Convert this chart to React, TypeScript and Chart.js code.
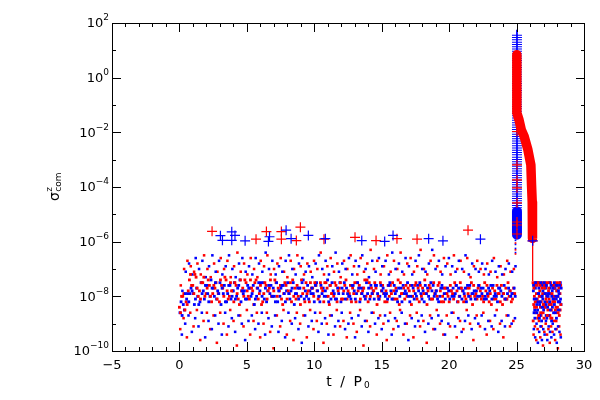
import React, { useEffect, useRef } from "react";
import { Chart, registerables } from "chart.js";

Chart.register(...registerables);

// ---------- axes ----------
const X_MIN = -5;
const X_MAX = 30;
const Y_MIN = 1e-10;
const Y_MAX = 1e2;
const xMajorTicks = [-5, 0, 5, 10, 15, 20, 25, 30];
const yMajorExps = [2, 0, -2, -4, -6, -8, -10];
const yMinorExps = [1, -1, -3, -5, -7, -9];

const RED = "rgb(255,0,0)";
const BLUE = "rgb(0,0,255)";

// ---------- dense cloud, t = 0 .. ~25 (log10 of sigma) ----------
const cloudStep = 0.247;
const redCoreA = [
  -8.4, -8.0, -8.2, -7.4, -7.6, -7.3, -7.8, -7.5, -7.9, -7.6,
  -7.9, -7.5, -8.2, -7.7, -7.4, -8.0, -7.8, -7.6, -8.3, -7.7,
  -7.5, -8.1, -7.8, -7.4, -7.9, -8.2, -7.6, -7.7, -8.0, -7.5,
  -7.8, -8.3, -7.6, -7.9, -7.4, -8.1, -7.7, -7.9, -7.5, -8.2,
  -7.7, -7.6, -8.0, -7.8, -7.5, -8.3, -7.9, -7.6, -7.7, -8.1,
  -7.4, -7.9, -7.7, -8.2, -7.6, -7.8, -8.0, -7.5, -7.9, -7.7,
  -8.1, -7.6, -7.8, -8.0, -7.5, -7.7, -8.3, -7.9, -7.6, -7.8,
  -8.0, -7.5, -8.2, -7.7, -7.9, -7.6, -8.1, -7.8, -7.5, -8.0,
  -7.7, -8.2, -7.9, -7.6, -8.0, -7.8, -8.1, -7.7, -8.3, -7.9,
  -7.6, -8.0, -7.8, -8.2, -7.7, -8.1, -7.9, -8.3, -7.7, -8.0,
  -8.1,
];
const redCoreB = [
  -8.6, -7.9, -8.3, -7.2, -7.9, -7.7, -8.1, -7.3, -7.7, -8.0,
  -7.6, -8.1, -7.4, -8.0, -7.8, -7.5, -8.2, -7.9, -7.4, -8.0,
  -7.8, -7.4, -8.3, -7.7, -7.6, -7.9, -8.1, -7.4, -7.8, -8.0,
  -7.6, -7.9, -8.1, -7.5, -8.0, -7.6, -8.3, -7.7, -7.9, -7.5,
  -8.0, -7.8, -7.5, -8.2, -7.7, -7.6, -8.0, -8.2, -7.5, -7.8,
  -8.1, -7.6, -7.9, -7.5, -8.1, -7.7, -7.4, -8.0, -7.8, -8.3,
  -7.5, -7.9, -8.2, -7.6, -7.8, -8.1, -7.5, -7.7, -8.0, -7.6,
  -7.8, -8.1, -7.6, -7.9, -8.3, -7.7, -7.5, -8.0, -7.8, -8.2,
  -7.9, -7.6, -8.1, -7.8, -7.5, -8.2, -7.7, -8.0, -7.6, -8.1,
  -7.8, -8.2, -7.6, -7.9, -8.1, -7.6, -8.2, -7.9, -8.1, -7.8,
  -7.7,
];
const redCoreC = [
  -8.0, -8.5, -7.8, -7.6, -7.2, -8.0, -7.5, -8.0, -7.4, -8.2,
  -7.7, -7.9, -7.6, -7.3, -8.1, -7.8, -7.5, -8.1, -7.8, -7.4,
  -8.0, -7.7, -7.5, -8.1, -8.3, -7.5, -7.8, -8.0, -7.4, -7.7,
  -8.1, -7.5, -7.8, -8.2, -7.7, -8.0, -7.4, -8.2, -7.8, -7.7,
  -7.5, -8.1, -7.7, -7.5, -8.0, -7.9, -7.5, -7.8, -8.1, -7.6,
  -7.8, -8.2, -7.5, -7.8, -7.9, -7.4, -8.2, -7.7, -7.5, -8.0,
  -7.8, -8.2, -7.6, -7.9, -8.1, -7.4, -7.9, -8.1, -7.7, -8.3,
  -7.6, -7.7, -8.0, -7.4, -7.8, -8.1, -7.9, -7.6, -8.2, -7.7,
  -8.0, -7.8, -7.5, -8.2, -7.7, -8.0, -7.9, -7.5, -8.0, -7.7,
  -8.1, -7.5, -8.0, -8.3, -7.8, -7.9, -7.6, -8.1, -7.5, -8.2,
  -7.9,
];
const redUpper = [
  -7.6, -7.0, -6.7, -6.9, -7.1, -6.8, -7.2, -6.5, -7.0, -7.3,
  -6.8, -7.1, -6.6, -7.0, -6.7, -7.3, -6.9, -6.4, -7.1, -6.8,
  -7.2, -6.6, -7.0, -7.3, -6.7, -6.9, -6.5, -7.2, -7.0, -6.8,
  -6.6, -7.1, -7.3, -6.7, -7.0, -6.5, -6.9, -7.2, -6.8, -7.1,
  -6.7, -7.0, -6.4, -7.2, -6.9, -6.6, -7.1, -6.8, -7.3, -6.7,
  -7.0, -6.5, -6.9, -7.2, -6.6, -7.1, -6.8, -6.3, -7.0, -6.7,
  -7.2, -6.9, -6.5, -7.1, -6.7, -7.0, -6.4, -7.2, -6.8, -6.6,
  -7.1, -6.9, -6.3, -7.0, -7.2, -6.7, -6.5, -6.9, -7.1, -6.6,
  -6.8, -7.2, -6.5, -7.0, -6.7, -7.1, -6.6, -7.3, -6.9, -6.7,
  -7.0, -7.2, -6.8, -7.1, -6.6, -7.3, -6.9, -7.2, -6.7, -7.1,
  -7.0,
];
const redLower = [
  -9.2, -8.8, -9.5, -8.6, -9.1, -8.5, -9.6, -8.9, -8.6, -9.2,
  -8.7, -9.7, -8.6, -9.0, -9.4, -8.5, -8.9, -9.8, -8.7, -9.1,
  -8.5, -9.4, -8.9, -8.6, -9.5, -9.0, -8.6, -9.3, -9.9, -8.7,
  -9.1, -8.5, -9.4, -8.9, -9.6, -8.6, -9.0, -8.7, -9.5, -8.5,
  -9.2, -8.9, -8.6, -9.7, -9.0, -8.7, -9.4, -8.5, -9.1, -8.9,
  -9.5, -8.6, -9.0, -9.3, -8.5, -9.8, -8.9, -9.1, -8.6, -9.4,
  -8.7, -9.0, -9.6, -8.6, -9.2, -8.9, -8.5, -9.4, -9.0, -8.7,
  -9.5, -8.6, -9.1, -8.9, -9.7, -8.7, -9.2, -8.5, -9.0, -9.4,
  -8.7, -9.1, -8.6, -9.5, -8.9, -9.2, -8.5, -9.0, -9.6, -8.7,
  -9.1, -8.6, -9.4, -8.9, -9.2, -8.5, -9.0, -9.5, -8.7, -9.1,
  -8.9,
];
const blueCoreA = [
  -8.6, -8.3, -8.1, -7.9, -7.9, -7.7, -8.2, -7.8, -7.6, -8.0,
  -7.7, -8.1, -7.5, -7.9, -8.2, -7.6, -7.8, -8.0, -7.4, -7.9,
  -8.1, -7.7, -7.6, -8.0, -7.8, -7.5, -8.2, -7.9, -7.7, -7.5,
  -8.0, -7.6, -7.8, -8.1, -7.5, -7.9, -7.7, -7.4, -8.0, -7.8,
  -7.9, -7.5, -8.2, -7.7, -8.0, -7.6, -7.8, -8.1, -7.5, -7.9,
  -7.7, -8.0, -7.6, -7.9, -8.2, -7.7, -7.5, -8.1, -7.8, -7.6,
  -8.0, -7.7, -7.9, -7.5, -8.1, -7.8, -8.0, -7.6, -7.9, -8.2,
  -7.7, -8.0, -7.5, -7.8, -7.9, -8.1, -7.6, -7.8, -8.0, -7.7,
  -7.9, -8.1, -7.7, -7.6, -8.0, -7.8, -8.2, -7.6, -7.9, -7.8,
  -8.0, -7.7, -8.1, -7.8, -7.6, -8.0, -7.7, -7.9, -8.1, -7.8,
  -7.9,
];
const blueCoreB = [
  -8.2, -8.5, -7.9, -7.7, -8.3, -8.0, -7.5, -8.1, -7.9, -7.4,
  -8.0, -7.8, -8.3, -7.6, -7.9, -8.1, -7.5, -7.7, -8.2, -7.8,
  -7.6, -8.0, -8.3, -7.7, -7.5, -8.1, -7.8, -7.6, -8.0, -8.2,
  -7.7, -7.9, -7.5, -7.8, -8.3, -7.7, -8.0, -8.1, -7.6, -7.9,
  -8.2, -7.8, -7.6, -8.0, -7.4, -8.1, -7.9, -7.7, -8.2, -7.5,
  -7.9, -8.1, -7.8, -7.5, -7.7, -8.0, -7.9, -7.6, -8.1, -7.9,
  -7.6, -7.9, -8.1, -7.8, -7.6, -8.2, -7.7, -7.9, -7.5, -8.0,
  -8.1, -7.6, -7.9, -8.2, -7.7, -7.5, -8.0, -8.1, -7.7, -7.9,
  -7.7, -7.8, -8.0, -8.2, -7.7, -7.9, -7.6, -8.1, -7.8, -8.0,
  -7.7, -8.1, -7.9, -7.6, -8.0, -8.2, -7.8, -7.6, -7.9, -8.0,
  -7.7,
];
const blueCoreC = [
  -8.7, -7.9, -8.2, -7.8, -8.1, -8.3, -7.9, -7.6, -8.2, -7.7,
  -7.5, -7.9, -7.7, -8.2, -7.6, -8.0, -8.1, -7.6, -7.8, -8.1,
  -7.7, -7.9, -8.1, -7.5, -8.0, -7.7, -7.6, -8.0, -8.2, -7.8,
  -7.6, -8.2, -7.9, -7.7, -7.9, -8.1, -7.5, -7.8, -8.1, -7.7,
  -7.6, -8.0, -7.9, -7.8, -8.2, -7.5, -8.1, -7.9, -7.7, -8.1,
  -8.0, -7.6, -8.1, -7.7, -7.9, -8.1, -7.7, -7.9, -7.6, -8.1,
  -7.8, -8.0, -7.6, -8.1, -7.9, -7.7, -8.2, -7.8, -8.0, -7.6,
  -7.9, -7.8, -8.1, -7.6, -8.0, -7.8, -7.9, -8.2, -7.6, -8.1,
  -7.8, -8.0, -7.9, -7.7, -8.1, -7.7, -8.0, -7.9, -8.1, -7.6,
  -7.9, -8.0, -7.7, -8.1, -7.9, -7.7, -8.0, -8.1, -7.7, -7.9,
  -8.0,
];
const blueUpper = [
  -7.8, -7.1, -6.8, -7.2, -6.6, -7.0, -6.7, -7.3, -6.9, -6.5,
  -7.1, -6.7, -7.2, -6.9, -6.5, -7.0, -7.3, -6.8, -6.6, -7.1,
  -6.9, -7.2, -6.6, -6.8, -7.1, -6.4, -7.0, -6.7, -7.2, -6.9,
  -7.1, -6.7, -6.5, -7.0, -7.2, -6.8, -6.6, -7.1, -6.9, -7.3,
  -6.8, -6.5, -7.0, -6.7, -7.2, -6.9, -6.4, -7.1, -6.8, -7.0,
  -6.6, -7.2, -6.7, -6.9, -6.5, -7.0, -7.3, -6.7, -7.1, -6.6,
  -6.9, -6.7, -7.2, -6.4, -7.0, -6.8, -7.1, -6.6, -6.9, -7.2,
  -6.7, -6.5, -7.0, -7.1, -6.8, -6.3, -7.0, -6.7, -7.2, -6.9,
  -6.6, -6.9, -7.1, -6.7, -7.0, -6.5, -7.2, -6.8, -7.0, -7.1,
  -6.8, -7.0, -7.2, -6.7, -7.1, -6.9, -7.2, -7.0, -6.8, -7.1,
  -6.9,
];
const blueLower = [
  -9.4, -9.0, -8.7, -9.3, -8.8, -9.1, -8.6, -9.5, -8.9, -9.2,
  -8.7, -9.0, -9.4, -8.6, -9.1, -8.8, -9.3, -8.7, -9.0, -9.6,
  -8.9, -8.7, -9.2, -9.0, -8.6, -9.4, -8.8, -9.1, -8.7, -9.3,
  -8.9, -9.5, -8.6, -9.0, -8.8, -9.2, -9.7, -8.7, -9.1, -8.9,
  -8.6, -9.3, -9.0, -8.8, -9.4, -8.7, -9.1, -8.9, -8.6, -9.2,
  -9.0, -8.8, -9.5, -8.7, -9.1, -8.9, -9.3, -8.6, -9.0, -8.8,
  -9.2, -8.7, -8.9, -9.4, -8.8, -9.1, -8.6, -9.0, -9.6, -8.8,
  -9.1, -8.9, -8.7, -9.3, -9.0, -8.8, -9.2, -8.7, -8.9, -9.4,
  -9.0, -8.6, -9.1, -8.8, -9.3, -8.9, -8.7, -9.2, -8.8, -9.0,
  -8.7, -9.2, -8.9, -9.1, -8.7, -9.3, -8.9, -9.1, -8.7, -9.0,
  -8.8,
];

// ---------- late block, t = 26.2 .. 28.3 ----------
const blockStart = 26.22;
const blockStep = 0.1;
const redBlockA = [-7.5, -8.0, -8.6, -7.6, -8.2, -7.8, -8.7, -7.5, -8.3, -7.9, -7.6, -8.5, -8.1, -7.5, -8.8, -8.0, -7.7, -8.4, -7.6, -8.2, -7.9];
const redBlockB = [-8.3, -7.6, -7.9, -8.8, -7.5, -8.4, -8.0, -8.6, -7.7, -7.5, -8.2, -7.8, -8.7, -8.3, -7.6, -8.1, -8.5, -7.5, -8.0, -8.7, -7.6];
const redBlockC = [-8.9, -8.4, -7.5, -8.1, -8.7, -7.6, -8.2, -7.9, -8.8, -8.4, -8.0, -7.5, -8.3, -8.8, -7.9, -7.6, -8.2, -8.9, -8.4, -7.7, -8.5];
const redBlockD = [-7.7, -8.2, -8.4, -7.5, -8.0, -8.6, -7.7, -8.3, -7.6, -8.1, -8.7, -7.7, -7.9, -8.5, -8.2, -7.7, -8.0, -7.8, -8.6, -7.5, -8.3];
const redBlockLow = [-9.4, -9.1, -9.6, -9.2, -8.9, -9.5, -9.1, -9.8, -9.3, -9.0, -9.4, -9.2, -9.7, -9.1, -9.3, -8.9, -9.6, -9.2, -9.9, -9.1, -9.4];
const blueBlockA = [-7.8, -8.5, -7.5, -8.2, -7.9, -8.7, -7.6, -8.1, -8.4, -7.7, -8.8, -8.0, -7.5, -8.3, -7.8, -8.6, -7.6, -8.1, -8.5, -7.9, -7.5];
const blueBlockB = [-8.6, -7.7, -8.3, -7.5, -8.8, -8.0, -8.4, -7.6, -8.2, -8.7, -7.9, -8.3, -7.7, -8.9, -8.1, -7.5, -8.6, -7.8, -8.2, -7.6, -8.3];
const blueBlockC = [-7.6, -8.8, -8.1, -8.5, -7.7, -8.2, -8.9, -7.8, -7.5, -8.3, -8.0, -8.7, -8.2, -7.6, -8.4, -8.1, -7.7, -8.8, -8.0, -8.5, -8.1];
const blueBlockD = [-8.1, -7.5, -8.6, -7.9, -8.3, -7.5, -8.0, -8.5, -7.9, -7.6, -8.4, -7.9, -8.5, -8.0, -7.7, -8.3, -8.0, -7.6, -7.8, -8.2, -7.7];
const blueBlockLow = [-9.2, -9.5, -9.0, -9.7, -9.3, -9.1, -9.6, -9.2, -9.4, -8.9, -9.6, -9.1, -9.3, -9.5, -9.0, -9.4, -9.2, -9.7, -9.1, -9.3, -9.5];

// ---------- "+" markers near 1e-6 ----------
const redPlusT = [2.42, 6.45, 7.56, 8.97, 7.56, 5.68, 8.67, 10.72, 13.02, 14.58, 16.13, 17.62, 21.4];
const redPlusExp = [-5.62, -5.63, -5.63, -5.47, -5.91, -5.91, -5.96, -5.91, -5.84, -5.96, -5.89, -5.91, -5.58];
const bluePlusT = [3.04, 3.19, 3.88, 4.12, 3.88, 4.87, 6.68, 6.6, 7.91, 8.28, 9.56, 10.82, 13.52, 15.22, 15.84, 18.48, 19.54, 22.32];
const bluePlusExp = [-5.78, -5.95, -5.64, -5.77, -5.95, -5.97, -5.82, -5.99, -5.58, -5.89, -5.77, -5.89, -5.96, -5.99, -5.77, -5.89, -5.97, -5.91];

// ---------- collapse column near t = 25 ----------
const columnT = 25.03;
const blueColumnExp = [1.57, -4.9];
const blueColumnSolidExp = [-4.9, -5.75];
const blueColumnStemExp = [1.75, -5.9];
const redColumnPlusExp = [-1.97, -3.19, -3.74, -4.03, -4.58, -5.28, -5.39, -5.72];
const redTrackT = [25.02, 25.02, 25.18, 25.35, 25.57, 25.84, 26.06, 26.11, 26.16, 26.18];
const redTrackExp = [0.84, -1.29, -1.54, -1.91, -2.16, -2.64, -3.19, -3.92, -4.55, -5.88];
const redTailT = [26.19, 26.19];
const redTailExp = [-5.97, -7.44];
const endPlusT = [26.19];
const endPlusExp = [-5.97];
const columnDotsT = 24.92;
const columnBlueDotsExp = [-5.95, -6.1, -6.25, -6.4];
const columnRedDotsExp = [-6.05, -6.3, -6.45];

const v = (e: number) => Math.pow(10, e);
const gridPts = (t0: number, dt: number, exps: number[]) =>
  exps.map((e, i) => ({ x: t0 + i * dt, y: v(e) }));
const pairPts = (ts: number[], exps: number[]) => exps.map((e, i) => ({ x: ts[i], y: v(e) }));
const constPts = (t: number, exps: number[]) => exps.map((e) => ({ x: t, y: v(e) }));

const dots = (data: any[], color: string, r = 2) => ({
  data,
  showLine: false,
  pointStyle: "rect",
  pointRadius: r,
  pointBorderWidth: 0,
  backgroundColor: color,
  borderColor: color,
});
const crosses = (data: any[], color: string) => ({
  data,
  showLine: false,
  pointStyle: "cross",
  pointRadius: 5,
  pointBorderWidth: 1.2,
  borderColor: color,
  backgroundColor: color,
});
const line = (data: any[], color: string, width: number, dash: number[] = []) => ({
  data,
  showLine: true,
  pointRadius: 0,
  borderColor: color,
  backgroundColor: color,
  borderWidth: width,
  borderDash: dash,
  borderCapStyle: "butt",
  borderJoinStyle: "round",
  tension: 0,
  fill: false,
});

const framePlugin = {
  id: "idlFrame",
  afterDraw(chart: any) {
    const { ctx, chartArea: a, scales } = chart;
    const xs = scales.x;
    const ys = scales.y;
    ctx.save();
    ctx.strokeStyle = "#000";
    ctx.fillStyle = "#000";
    ctx.lineWidth = 1;
    ctx.beginPath();
    ctx.rect(a.left + 0.5, a.top + 0.5, a.right - a.left, a.bottom - a.top);
    ctx.stroke();

    const seg = (x1: number, y1: number, x2: number, y2: number) => {
      ctx.beginPath();
      ctx.moveTo(x1, y1);
      ctx.lineTo(x2, y2);
      ctx.stroke();
    };
    for (let t = X_MIN; t <= X_MAX; t += 1) {
      const px = Math.round(xs.getPixelForValue(t)) + 0.5;
      const len = xMajorTicks.includes(t) ? 9 : 4;
      seg(px, a.bottom, px, a.bottom - len);
      seg(px, a.top, px, a.top + len);
    }
    const yTick = (e: number, len: number) => {
      const py = Math.round(ys.getPixelForValue(v(e))) + 0.5;
      seg(a.left, py, a.left + len, py);
      seg(a.right + 1, py, a.right + 1 - len, py);
    };
    yMajorExps.forEach((e) => yTick(e, 9));
    yMinorExps.forEach((e) => yTick(e, 4));

    const fam = '"DejaVu Sans", sans-serif';
    const fmt = (n: number) => (n < 0 ? "\u2212" + Math.abs(n) : String(n));

    ctx.font = `13px ${fam}`;
    ctx.textAlign = "center";
    ctx.textBaseline = "middle";
    xMajorTicks.forEach((t) => {
      ctx.fillText(fmt(t), xs.getPixelForValue(t), 366);
    });

    ctx.textAlign = "left";
    yMajorExps.forEach((e) => {
      const py = ys.getPixelForValue(v(e));
      ctx.font = `9px ${fam}`;
      const sup = fmt(e);
      const ws = ctx.measureText(sup).width;
      ctx.font = `13px ${fam}`;
      const wb = ctx.measureText("10").width;
      const right = a.left - 3;
      ctx.fillText("10", right - ws - wb, py + 1);
      ctx.font = `9px ${fam}`;
      ctx.fillText(sup, right - ws, py - 5);
    });

    ctx.font = `14px ${fam}`;
    (ctx as any).letterSpacing = "2px";
    const main = "t / P";
    const wm = ctx.measureText(main).width;
    ctx.font = `9px ${fam}`;
    (ctx as any).letterSpacing = "0px";
    const wsub = ctx.measureText("0").width;
    const cx = (a.left + a.right) / 2;
    const x0 = cx - (wm + wsub) / 2;
    ctx.font = `14px ${fam}`;
    (ctx as any).letterSpacing = "2px";
    ctx.fillText(main, x0, 382);
    (ctx as any).letterSpacing = "0px";
    ctx.font = `9px ${fam}`;
    ctx.fillText("0", x0 + wm, 386);

    ctx.save();
    ctx.translate(55, (a.top + a.bottom) / 2);
    ctx.rotate(-Math.PI / 2);
    ctx.font = `14px ${fam}`;
    const wsig = ctx.measureText("\u03c3").width;
    ctx.font = `9px ${fam}`;
    const wcom = ctx.measureText("com").width;
    const sx = -(wsig + wcom) / 2;
    ctx.font = `14px ${fam}`;
    ctx.fillText("\u03c3", sx, 0);
    ctx.font = `9px ${fam}`;
    ctx.fillText("z", sx + wsig + 0.5, -5);
    ctx.fillText("com", sx + wsig + 0.5, 4);
    ctx.restore();

    ctx.restore();
  },
};

export default function App() {
  const ref = useRef<HTMLCanvasElement | null>(null);
  useEffect(() => {
    if (!ref.current) return;
    const layers: any[] = [
      dots(gridPts(0.06, cloudStep, redLower), RED, 1.8),
      dots(gridPts(0.18, cloudStep, blueLower), BLUE, 1.8),
      dots(gridPts(0.1, cloudStep, redUpper), RED, 1.8),
      dots(gridPts(0.22, cloudStep, blueUpper), BLUE, 1.8),
      dots(gridPts(0.0, cloudStep, redCoreA), RED),
      dots(gridPts(0.04, cloudStep, blueCoreA), BLUE),
      dots(gridPts(0.08, cloudStep, redCoreB), RED),
      dots(gridPts(0.12, cloudStep, blueCoreB), BLUE),
      dots(gridPts(0.16, cloudStep, redCoreC), RED),
      dots(gridPts(0.2, cloudStep, blueCoreC), BLUE),
      dots(gridPts(blockStart + 0.04, blockStep, redBlockLow), RED, 1.8),
      dots(gridPts(blockStart + 0.06, blockStep, blueBlockLow), BLUE, 1.8),
      dots(gridPts(blockStart, blockStep, redBlockA), RED),
      dots(gridPts(blockStart + 0.025, blockStep, blueBlockA), BLUE),
      dots(gridPts(blockStart + 0.05, blockStep, redBlockB), RED),
      dots(gridPts(blockStart + 0.075, blockStep, blueBlockB), BLUE),
      dots(gridPts(blockStart + 0.012, blockStep, redBlockC), RED),
      dots(gridPts(blockStart + 0.037, blockStep, blueBlockC), BLUE),
      dots(gridPts(blockStart + 0.062, blockStep, redBlockD), RED),
      dots(gridPts(blockStart + 0.087, blockStep, blueBlockD), BLUE),
      dots(constPts(columnDotsT, columnBlueDotsExp), BLUE, 1.2),
      dots(constPts(columnDotsT, columnRedDotsExp), RED, 1.2),
      line(constPts(columnT, blueColumnExp), BLUE, 10, [1, 1.3]),
      line(constPts(columnT, blueColumnSolidExp), BLUE, 10),
      line(constPts(columnT, blueColumnStemExp), BLUE, 1),
      crosses(constPts(columnT, redColumnPlusExp), RED),
      line(pairPts(redTrackT, redTrackExp), RED, 9.5),
      line(pairPts(redTailT, redTailExp), RED, 1),
      crosses(pairPts(endPlusT, endPlusExp), RED),
      crosses(pairPts(endPlusT, endPlusExp), BLUE),
      crosses(pairPts(redPlusT, redPlusExp), RED),
      crosses(pairPts(bluePlusT, bluePlusExp), BLUE),
    ];
    const datasets = layers.slice().reverse();
    const chart = new Chart(ref.current, {
      type: "scatter",
      data: { datasets },
      options: {
        animation: false,
        responsive: false,
        devicePixelRatio: 1,
        events: [],
        layout: { padding: { left: 112, right: 16, top: 23, bottom: 49 } },
        scales: {
          x: { type: "linear", min: X_MIN, max: X_MAX, display: false },
          y: { type: "logarithmic", min: Y_MIN, max: Y_MAX, display: false },
        },
        plugins: { legend: { display: false }, tooltip: { enabled: false } },
      } as any,
      plugins: [framePlugin],
    });
    return () => chart.destroy();
  }, []);
  return (
    <div style={{ position: "absolute", left: 0, top: 0, width: 600, height: 400, background: "#fff" }}>
      <canvas ref={ref} width={600} height={400} style={{ display: "block" }} />
    </div>
  );
}
